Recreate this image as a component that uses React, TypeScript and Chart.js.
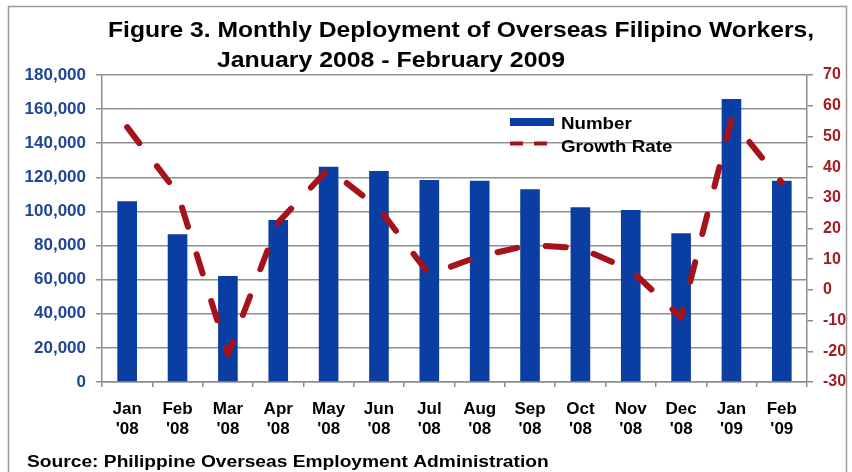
import React, { useEffect, useRef } from "react";
import { Chart, registerables } from "chart.js";

Chart.register(...registerables);

const categories: string[][] = [
  ["Jan", "'08"], ["Feb", "'08"], ["Mar", "'08"], ["Apr", "'08"], ["May", "'08"],
  ["Jun", "'08"], ["Jul", "'08"], ["Aug", "'08"], ["Sep", "'08"], ["Oct", "'08"],
  ["Nov", "'08"], ["Dec", "'08"], ["Jan", "'09"], ["Feb", "'09"],
];
const numberValues: number[] = [
  106000, 86600, 62100, 95000, 126200, 123700, 118400,
  118000, 113000, 102400, 100800, 87200, 165900, 118000,
];
const growthRate: number[] = [
  53, 31.5, -21, 22, 39.5, 26.5, 5,
  11, 14.6, 13.6, 6.5, -9, 55.5, 35,
];
const titleLine1 = "Figure 3. Monthly Deployment of Overseas Filipino Workers,";
const titleLine2 = "January 2008 - February 2009";
const sourceText = "Source: Philippine Overseas Employment Administration";
const legendLabels = ["Number", "Growth Rate"];

const FONT = "'Liberation Sans', Arial, sans-serif";
const BLUE = "#0B3EA3";
const RED = "#A5121A";

function stretchText(ctx: any, text: string, x: number, y: number, sx: number, align: string) {
  ctx.save();
  ctx.translate(x, y);
  ctx.scale(sx, 1);
  ctx.textAlign = align;
  ctx.fillText(text, 0, 0);
  ctx.restore();
}

const decorPlugin = {
  id: "decor",
  beforeDraw(chart: any) {
    const ctx = chart.ctx;
    ctx.save();
    ctx.fillStyle = "#ffffff";
    ctx.fillRect(0, 0, chart.width, chart.height);
    ctx.strokeStyle = "#9a9a9a";
    ctx.lineWidth = 1.5;
    ctx.strokeRect(8.5, 6.5, 838, 480);
    ctx.restore();
  },
  afterDraw(chart: any) {
    const ctx = chart.ctx;
    ctx.save();
    ctx.fillStyle = "#000000";
    ctx.textBaseline = "alphabetic";
    ctx.font = `bold 22px ${FONT}`;
    stretchText(ctx, titleLine1, 461, 37, 1.12, "center");
    stretchText(ctx, titleLine2, 391, 67, 1.13, "center");
    ctx.font = `bold 16px ${FONT}`;
    stretchText(ctx, sourceText, 27, 467, 1.2, "left");

    // legend
    ctx.fillStyle = BLUE;
    ctx.fillRect(510, 118, 44, 8);
    ctx.strokeStyle = RED;
    ctx.lineWidth = 4;
    ctx.setLineDash([13, 11]);
    ctx.beginPath();
    ctx.moveTo(510, 143.5);
    ctx.lineTo(548, 143.5);
    ctx.stroke();
    ctx.setLineDash([]);
    ctx.fillStyle = "#000000";
    ctx.font = `bold 16px ${FONT}`;
    stretchText(ctx, legendLabels[0], 561, 129, 1.17, "left");
    stretchText(ctx, legendLabels[1], 561, 152, 1.17, "left");
    ctx.restore();
  },
};

export default function App() {
  const canvasRef = useRef<HTMLCanvasElement | null>(null);

  useEffect(() => {
    document.body.style.margin = "0";
    const canvas = canvasRef.current;
    if (!canvas) return;
    const chart = new Chart(canvas, {
      type: "bar",
      data: {
        labels: categories,
        datasets: [
          {
            type: "line",
            label: legendLabels[1],
            data: growthRate,
            yAxisID: "y1",
            borderColor: RED,
            backgroundColor: RED,
            borderWidth: 6,
            borderDash: [20, 29],
            borderCapStyle: "round",
            borderJoinStyle: "round",
            pointRadius: 0,
            tension: 0,
            order: 0,
          } as any,
          {
            type: "bar",
            label: legendLabels[0],
            data: numberValues,
            yAxisID: "y",
            backgroundColor: BLUE,
            borderWidth: 0,
            categoryPercentage: 1,
            barPercentage: 0.39,
            order: 1,
          },
        ],
      },
      options: {
        responsive: false,
        animation: false,
        devicePixelRatio: 1,
        layout: { padding: { top: 75, left: 0, right: 0, bottom: 0 } },
        plugins: {
          legend: { display: false },
          title: { display: false },
          tooltip: { enabled: false },
        },
        scales: {
          x: {
            offset: true,
            grid: {
              offset: true,
              drawOnChartArea: false,
              drawTicks: true,
              tickLength: 5,
              color: "#8c8c8c",
              lineWidth: 1.5,
            },
            border: { display: true, color: "#8c8c8c", width: 1.5 },
            ticks: {
              color: "#000000",
              font: { family: FONT, size: 17, weight: "bold", lineHeight: 1.2 },
              padding: 12,
              maxRotation: 0,
              autoSkip: false,
            },
            afterFit(scale: any) {
              scale.height = 90;
            },
          },
          y: {
            position: "left",
            min: 0,
            max: 180000,
            ticks: {
              stepSize: 20000,
              color: "#1F4594",
              font: { family: FONT, size: 17, weight: "bold" },
              padding: 10,
              callback: (v: any) => Number(v).toLocaleString("en-US"),
            },
            grid: {
              color: "#8f8f8f",
              lineWidth: 1.5,
              drawTicks: true,
              tickLength: 6,
            },
            border: { display: true, color: "#8c8c8c", width: 1.5 },
            afterFit(scale: any) {
              scale.width = 102;
            },
          },
          y1: {
            position: "right",
            min: -30,
            max: 70,
            ticks: {
              stepSize: 10,
              color: "#A31C22",
              font: { family: FONT, size: 16, weight: "bold" },
              padding: 10,
            },
            grid: {
              drawOnChartArea: false,
              drawTicks: true,
              tickLength: 6,
              color: "#8c8c8c",
              lineWidth: 1.5,
            },
            border: { display: true, color: "#8c8c8c", width: 1.5 },
            afterFit(scale: any) {
              scale.width = 45;
            },
          },
        },
      },
      plugins: [decorPlugin],
    });
    return () => chart.destroy();
  }, []);

  return (
    <canvas
      ref={canvasRef}
      width={852}
      height={472}
      style={{ display: "block", width: "852px", height: "472px" }}
    />
  );
}
